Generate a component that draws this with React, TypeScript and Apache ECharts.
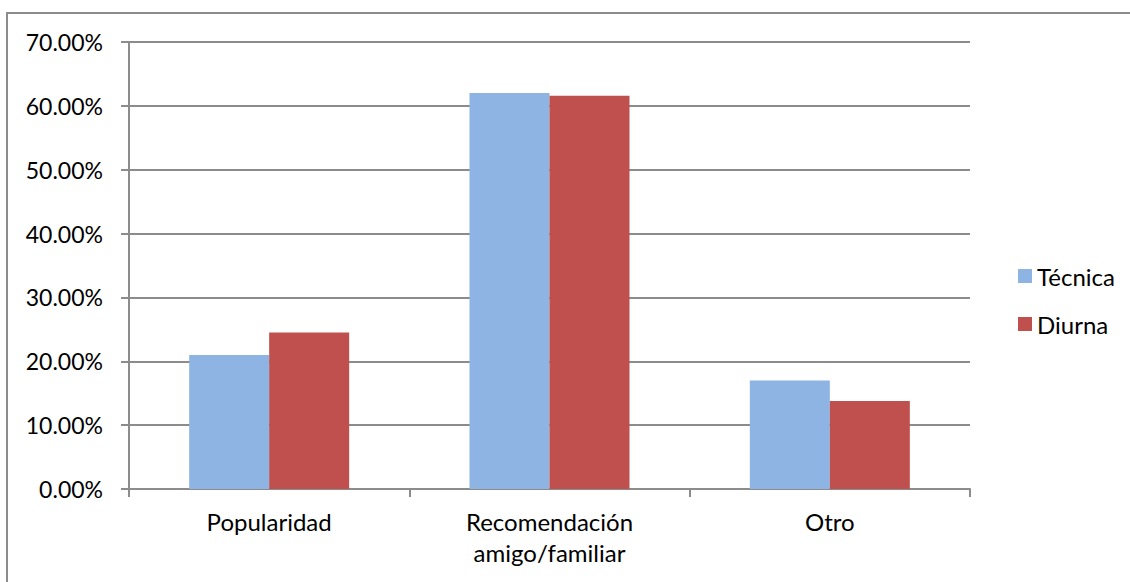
import React, { useEffect, useRef } from "react";
import * as echarts from "echarts";

const categories = ["Popularidad", "Recomendación\namigo/familiar", "Otro"];
const tecnica = [0.21, 0.62, 0.17];
const diurna = [0.245, 0.616, 0.138];
const seriesNames = ["Técnica", "Diurna"];
const seriesColors = ["#8EB4E3", "#C0504D"];

const FONT = "Lato";

export default function App() {
  const ref = useRef<HTMLDivElement>(null);
  useEffect(() => {
    if (!ref.current) return;
    const chart = echarts.init(ref.current, null, { renderer: "svg" });
    chart.setOption({
      animation: false,
      backgroundColor: "#ffffff",
      textStyle: { fontFamily: FONT },
      graphic: [
        {
          type: "line",
          shape: { x1: 6, y1: 13, x2: 1130, y2: 13 },
          style: { stroke: "#8c8c8c", lineWidth: 2 },
          silent: true,
        },
        {
          type: "line",
          shape: { x1: 7, y1: 12, x2: 7, y2: 582 },
          style: { stroke: "#8c8c8c", lineWidth: 2 },
          silent: true,
        },
      ],
      grid: { left: 129, top: 42, right: 160, bottom: 93, containLabel: false },
      legend: {
        orient: "vertical",
        left: 1013,
        top: 259,
        itemWidth: 14,
        itemHeight: 14,
        itemGap: 24,
        icon: "rect",
        data: seriesNames,
        textStyle: { fontFamily: FONT, fontSize: 24, color: "#000", lineHeight: 24 },
      },
      xAxis: {
        type: "category",
        data: categories,
        axisLine: { show: true, lineStyle: { color: "#8c8c8c", width: 2 } },
        axisTick: { show: true, length: 8, lineStyle: { color: "#8c8c8c", width: 2 } },
        axisLabel: {
          fontFamily: FONT,
          fontSize: 24,
          color: "#000",
          lineHeight: 31,
          margin: 17,
          interval: 0,
        },
      },
      yAxis: {
        type: "value",
        min: 0,
        max: 0.7,
        interval: 0.1,
        axisLine: { show: true, lineStyle: { color: "#8c8c8c", width: 2 } },
        axisTick: { show: true, length: 8, lineStyle: { color: "#8c8c8c", width: 2 } },
        splitLine: { show: true, lineStyle: { color: "#8c8c8c", width: 2 } },
        axisLabel: {
          fontFamily: FONT,
          fontSize: 23,
          color: "#000",
          margin: 26,
          formatter: (v: number) => (v * 100).toFixed(2) + "%",
        },
      },
      series: [
        {
          name: seriesNames[0],
          type: "bar",
          data: tecnica,
          barWidth: 80,
          barGap: "0%",
          itemStyle: { color: seriesColors[0] },
        },
        {
          name: seriesNames[1],
          type: "bar",
          data: diurna,
          barWidth: 80,
          barGap: "0%",
          itemStyle: { color: seriesColors[1] },
        },
      ],
    });
    return () => chart.dispose();
  }, []);
  return (
    <div
      ref={ref}
      style={{ position: "absolute", left: 0, top: 0, width: 1130, height: 582 }}
    />
  );
}
